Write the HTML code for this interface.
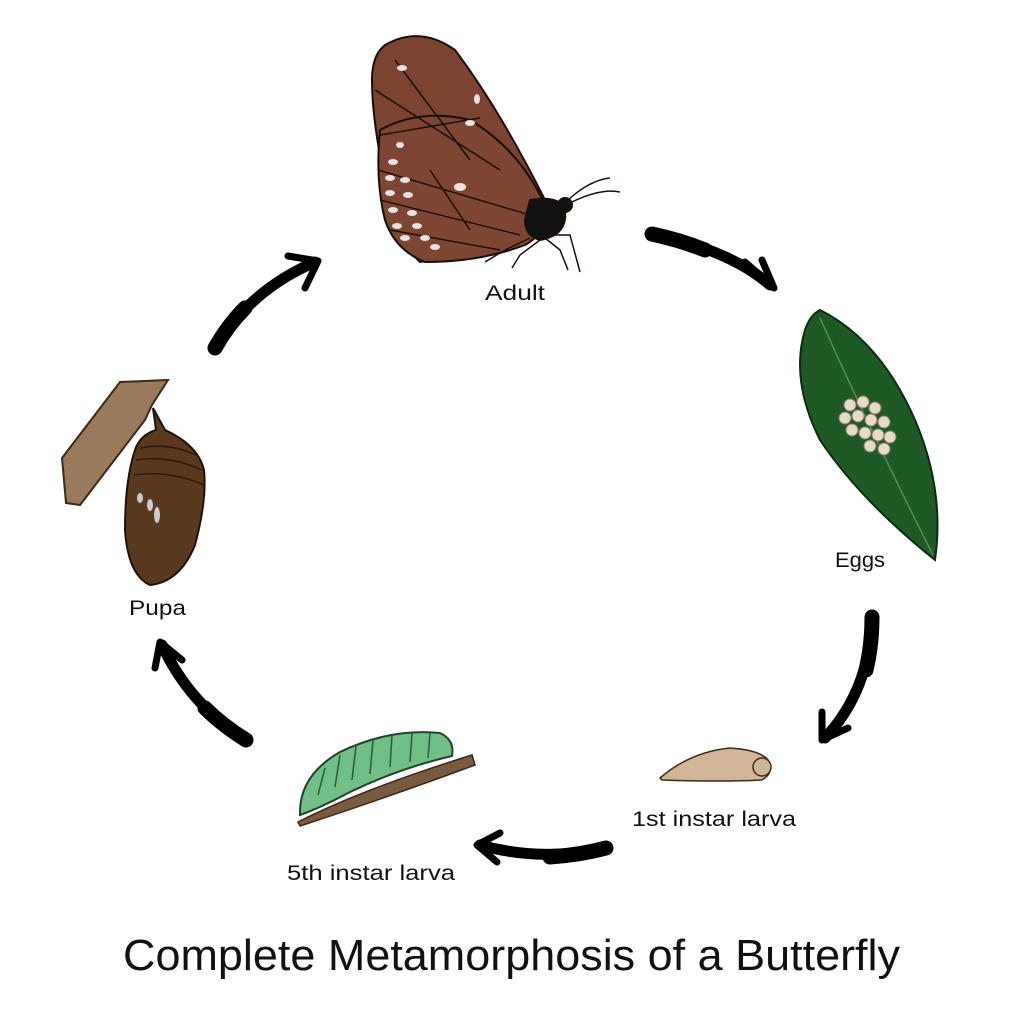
<!DOCTYPE html>
<html><head><meta charset="utf-8"><style>
html,body{margin:0;padding:0;background:#fff}
svg{display:block}
text{font-family:"Liberation Sans",sans-serif;fill:#111}
</style></head><body>
<svg width="1024" height="1024" viewBox="0 0 1024 1024" xmlns="http://www.w3.org/2000/svg">
<rect width="1024" height="1024" fill="#fff"/>

<!-- Butterfly -->
<g stroke="#1a0f08" stroke-width="2">
  <path d="M385 45 Q420 25 455 50 Q500 110 545 200 Q548 230 530 240 L420 262 Q395 240 385 180 Q372 120 372 80 Q372 55 385 45Z" fill="#7a4430"/>
  <path d="M380 130 Q420 108 470 120 Q520 150 545 205 Q545 235 525 245 Q480 262 425 262 Q395 250 385 220 Q375 180 380 130Z" fill="#7d4632"/>
  <path d="M380 135 L480 118 M395 60 L470 160 M375 90 L500 170 M378 170 L530 215 M380 200 L520 235 M390 230 L500 250 M430 170 L470 230" fill="none" stroke-width="1.5"/>
  <path d="M530 200 Q560 195 565 210 Q568 235 540 240 Q525 236 525 220Z" fill="#111"/>
  <circle cx="565" cy="205" r="7" fill="#111"/>
  <path d="M568 200 Q590 180 610 178 M570 203 Q600 188 620 192" fill="none" stroke-width="1.5"/>
  <path d="M530 238 L505 250 L485 262 M540 240 L520 255 L512 268 M548 235 L570 235 L580 272 M545 238 L560 250 L568 270" fill="none" stroke-width="1.5"/>
</g>
<g fill="#e8e2e0">
  <ellipse cx="402" cy="68" rx="5" ry="3"/><ellipse cx="477" cy="99" rx="3" ry="5"/>
  <ellipse cx="400" cy="145" rx="4" ry="3"/><ellipse cx="393" cy="162" rx="5" ry="3"/>
  <ellipse cx="390" cy="178" rx="5" ry="3"/><ellipse cx="405" cy="180" rx="5" ry="3"/>
  <ellipse cx="390" cy="193" rx="5" ry="3"/><ellipse cx="408" cy="195" rx="5" ry="3"/>
  <ellipse cx="393" cy="210" rx="5" ry="3"/><ellipse cx="412" cy="213" rx="5" ry="3"/>
  <ellipse cx="397" cy="226" rx="5" ry="3"/><ellipse cx="417" cy="226" rx="5" ry="3"/>
  <ellipse cx="405" cy="238" rx="5" ry="3"/><ellipse cx="425" cy="238" rx="5" ry="3"/>
  <ellipse cx="435" cy="247" rx="5" ry="3"/><ellipse cx="460" cy="187" rx="6" ry="4"/>
  <ellipse cx="470" cy="123" rx="5" ry="3"/>
</g>
<text x="485" y="300" font-size="21" textLength="60" lengthAdjust="spacingAndGlyphs">Adult</text>

<!-- Leaf with eggs -->
<path d="M820 310 Q880 340 915 420 Q945 490 935 560 Q860 500 820 440 Q790 380 805 330 Q810 315 820 310Z" fill="#1f5a26" stroke="#0e2a10" stroke-width="2"/>
<path d="M820 318 Q870 430 933 555" fill="none" stroke="#5a8a5a" stroke-width="1.5"/>
<g fill="#e6dcc6" stroke="#8a7e66" stroke-width="1">
  <circle cx="850" cy="405" r="6"/><circle cx="863" cy="402" r="6"/><circle cx="875" cy="408" r="6"/>
  <circle cx="845" cy="418" r="6"/><circle cx="858" cy="416" r="6"/><circle cx="871" cy="420" r="6"/><circle cx="884" cy="422" r="6"/>
  <circle cx="852" cy="430" r="6"/><circle cx="865" cy="433" r="6"/><circle cx="878" cy="435" r="6"/><circle cx="890" cy="437" r="6"/>
  <circle cx="870" cy="446" r="6"/><circle cx="884" cy="449" r="6"/>
</g>
<text x="835" y="567" font-size="21" textLength="50" lengthAdjust="spacingAndGlyphs">Eggs</text>

<!-- 1st instar -->
<path d="M660 778 Q690 752 730 748 Q760 750 768 760 Q775 772 762 780 Q720 782 662 780Z" fill="#d2b496" stroke="#3a2a1a" stroke-width="1.5"/>
<circle cx="762" cy="767" r="9" fill="#d2b496" stroke="#3a2a1a" stroke-width="1.5"/>
<text x="632" y="826" font-size="21" textLength="164" lengthAdjust="spacingAndGlyphs">1st instar larva</text>

<!-- 5th instar -->
<path d="M298 822 Q360 790 472 755 L475 765 Q380 800 300 826Z" fill="#7a5a40" stroke="#3a2a1a" stroke-width="1.5"/>
<path d="M300 812 Q300 775 340 752 Q390 728 440 733 Q455 740 452 756 Q400 768 350 792 Q320 808 300 815Z" fill="#6fbf86" stroke="#24402c" stroke-width="2"/>
<g stroke="#2c5a3a" stroke-width="1.5" fill="none">
  <path d="M318 795 L325 768 M335 787 L340 755 M352 780 L356 746 M370 774 L373 740 M390 767 L392 735 M410 762 L412 733 M428 758 L430 733"/>
</g>
<text x="287" y="880" font-size="21" textLength="168" lengthAdjust="spacingAndGlyphs">5th instar larva</text>

<!-- Pupa -->
<path d="M62 458 L120 382 L168 380 L152 405 L145 420 L80 505 L66 503Z" fill="#9a7a5a" stroke="#3a2a1a" stroke-width="2"/>
<path d="M153 408 L156 430 Q140 435 135 450 Q125 480 125 530 Q128 575 150 585 Q180 582 195 545 Q207 500 204 470 Q198 445 165 430 Z" fill="#5a3a1e" stroke="#1e120a" stroke-width="2"/>
<g stroke="#2a1a0c" stroke-width="1.5" fill="none"><path d="M140 448 Q170 442 198 456 M136 460 Q170 455 202 470 M134 475 Q170 470 204 485"/></g>
<g fill="#c8ccd0"><ellipse cx="140" cy="498" rx="3" ry="5"/><ellipse cx="150" cy="505" rx="3" ry="6"/><ellipse cx="157" cy="515" rx="3" ry="8"/></g>
<text x="129" y="615" font-size="21" textLength="57" lengthAdjust="spacingAndGlyphs">Pupa</text>

<!-- Arrows -->
<g fill="none" stroke="#000" stroke-linecap="round" stroke-linejoin="round">
  <path d="M215 348 Q250 290 315 262" stroke-width="11"/>
  <path d="M215 348 Q228 325 245 308" stroke-width="15"/>
  <path d="M288 256 L318 261 L305 288" stroke-width="7"/>
  <path d="M652 234 Q730 250 770 285" stroke-width="11"/>
  <path d="M652 234 Q680 240 705 250" stroke-width="15"/>
  <path d="M745 262 L774 288 L762 260" stroke-width="7"/>
  <path d="M872 617 Q870 690 825 738" stroke-width="11"/>
  <path d="M872 617 Q872 645 866 670" stroke-width="15"/>
  <path d="M822 712 L822 740 L848 728" stroke-width="7"/>
  <path d="M606 848 Q540 862 480 845" stroke-width="11"/>
  <path d="M606 848 Q580 855 550 857" stroke-width="15"/>
  <path d="M500 833 L477 845 L497 862" stroke-width="7"/>
  <path d="M246 740 Q190 705 162 645" stroke-width="11"/>
  <path d="M246 740 Q222 725 205 708" stroke-width="15"/>
  <path d="M155 668 L160 642 L182 660" stroke-width="7"/>
</g>

<text x="123" y="970" font-size="44" textLength="777" lengthAdjust="spacingAndGlyphs">Complete Metamorphosis of a Butterfly</text>
</svg>
</body></html>
